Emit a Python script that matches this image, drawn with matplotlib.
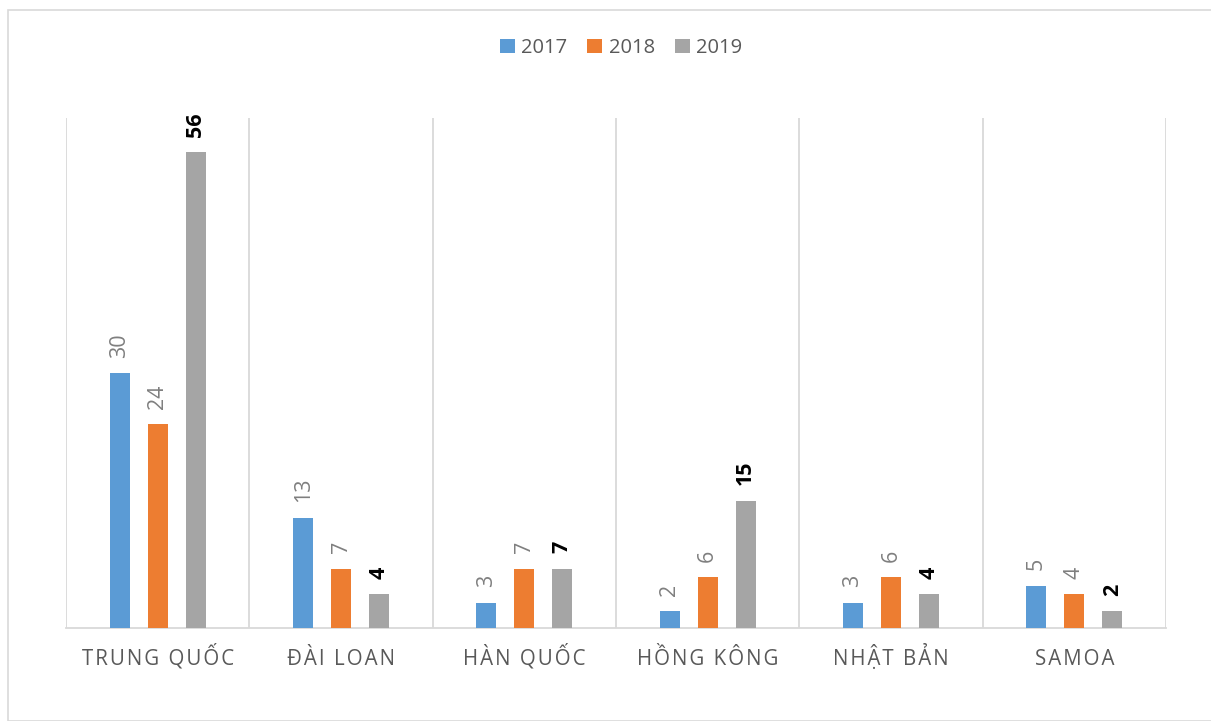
import matplotlib
matplotlib.use("Agg")
import matplotlib.pyplot as plt
from matplotlib.patches import Rectangle
import numpy as np

plt.rcParams['font.family'] = ['Open Sans', 'DejaVu Sans']

categories = ["TRUNG QUỐC", "ĐÀI LOAN", "HÀN QUỐC", "HỒNG KÔNG", "NHẬT BẢN", "SAMOA"]
years = ["2017", "2018", "2019"]
v2017 = [30, 13, 3, 2, 3, 5]
v2018 = [24, 7, 7, 6, 6, 4]
v2019 = [56, 4, 7, 15, 4, 2]
series = [v2017, v2018, v2019]
colors = ["#5B9BD5", "#ED7D31", "#A5A5A5"]

fig = plt.figure(figsize=(12.11, 7.21), dpi=100)
ax = fig.add_axes([66 / 1211, 1 - 628 / 721, 1100 / 1211, 510 / 721])

x = np.arange(len(categories))
width = 0.11
step = 0.207
grid_c = "#D9D9D9"

for i, (vals, col, yr) in enumerate(zip(series, colors, years)):
    pos = x + (i - 1) * step
    bars = ax.bar(pos, vals, width=width, color=col, label=yr, zorder=3)
    for b, v in zip(bars, vals):
        style = dict(fontweight="bold", color="black") if i == 2 else dict(color="#7F7F7F")
        ax.annotate(str(v), (b.get_x() + b.get_width() / 2, v),
                    xytext=(0, 11), textcoords="offset points",
                    rotation=90, ha="center", va="bottom",
                    fontsize=15.5, **style)

ax.set_xlim(-0.5, len(categories) - 0.5)
ax.set_ylim(0, 60)

# vertical separators between categories
for b in np.arange(-0.5, len(categories), 1.0):
    ax.axvline(b, color=grid_c, lw=1.3, zorder=1)

for s in ["top", "left", "right"]:
    ax.spines[s].set_visible(False)
ax.spines["bottom"].set_color(grid_c)
ax.spines["bottom"].set_linewidth(1.3)
ax.set_yticks([])
ax.set_xticks(x)
# letter-spaced category names
spaced = ["\u200a".join(list(c)) for c in categories]
ax.set_xticklabels(spaced, fontsize=14.8, color="#595959")
for lbl in ax.get_xticklabels():
    lbl.set_verticalalignment("baseline")
ax.tick_params(axis="x", length=0, pad=26.5)

leg = fig.legend(loc="upper center", bbox_to_anchor=(621 / 1211, 1 - 30 / 721), ncol=3,
                 frameon=False, fontsize=14.5, handlelength=0.75, handleheight=0.75,
                 handletextpad=0.3, columnspacing=1.0, borderaxespad=0)
for t in leg.get_texts():
    t.set_color("#595959")

fig.patches.append(Rectangle((8 / 1211, 0), 1 - 8 / 1211 + 0.01, 1 - 10 / 721,
                             transform=fig.transFigure, fill=False,
                             edgecolor=grid_c, lw=1.2))

fig.savefig("out.png", dpi=100)
